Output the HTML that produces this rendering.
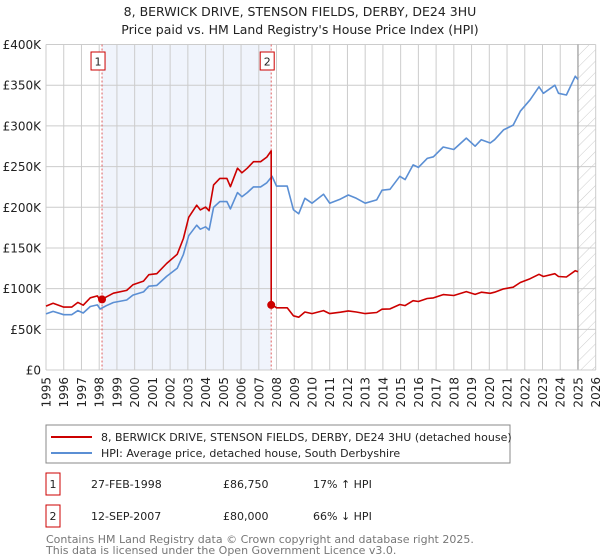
<!DOCTYPE html>
<html><head><meta charset="utf-8"><style>
body{margin:0;background:#fff;font-family:"Liberation Sans","DejaVu Sans",sans-serif;}
#wrap{position:relative;width:600px;height:560px;overflow:hidden;}
svg text{font-family:"DejaVu Sans","Liberation Sans",sans-serif;}
</style></head><body>
<div id="wrap">
<svg id="chart" width="600" height="560"></svg>
</div>
<script>
const hpiYears=[1995.0,1995.4,1996.0,1996.45,1996.8,1997.1,1997.5,1997.9,1998.05,1998.4,1998.8,1999.55,1999.9,2000.5,2000.8,2001.25,2001.8,2002.4,2002.75,2003.05,2003.5,2003.7,2004.0,2004.2,2004.45,2004.8,2005.2,2005.4,2005.8,2006.05,2006.35,2006.7,2007.1,2007.45,2007.75,2008.0,2008.6,2008.95,2009.25,2009.6,2010.0,2010.65,2011.0,2011.6,2012.05,2012.5,2013.0,2013.65,2013.95,2014.4,2014.95,2015.25,2015.7,2016.0,2016.5,2016.85,2017.4,2018.0,2018.7,2019.2,2019.55,2020.05,2020.3,2020.8,2021.35,2021.75,2022.3,2022.8,2023.05,2023.7,2023.9,2024.35,2024.85,2025.0];
const hpiValues=[69,72,68,68,73,70,78,80,75,79,83,86,92,96,103,104,115,125,142,165,178,173,176,172,200,207,207,198,218,213,218,225,225,230,238,226,226,197,192,211,205,216,205,210,215,211,205,209,221,222,238,234,252,249,260,262,274,271,285,275,283,279,283,295,301,318,332,348,340,350,340,338,361,357];
const saleYears=[1998.16,2007.70];
const salePrices=[86.75,80.0];
const saleLabels=["1","2"];
const yTicks=[0,50,100,150,200,250,300,350,400];
const yTickLabels=["£0","£50K","£100K","£150K","£200K","£250K","£300K","£350K","£400K"];
const xTickYears=[1995,1996,1997,1998,1999,2000,2001,2002,2003,2004,2005,2006,2007,2008,2009,2010,2011,2012,2013,2014,2015,2016,2017,2018,2019,2020,2021,2022,2023,2024,2025,2026];
const dataEnd=2025.0;

const NS="http://www.w3.org/2000/svg";
const svg=document.getElementById('chart');
const L=46,R=595.7,T=44.5,B=370;
const X=y=>L+(y-1995)/(2026-1995)*(R-L);
const Y=v=>B-v/400*(B-T);
function mk(tag,attrs,parent){const e=document.createElementNS(NS,tag);for(const k in attrs)e.setAttribute(k,attrs[k]);(parent||svg).appendChild(e);return e;}
function hpiAt(y){for(let i=1;i<hpiYears.length;i++){if(y<=hpiYears[i]){const t=(y-hpiYears[i-1])/(hpiYears[i]-hpiYears[i-1]);return hpiValues[i-1]+t*(hpiValues[i]-hpiValues[i-1]);}}return hpiValues[hpiValues.length-1];}

let t=mk('text',{x:300,y:16,'text-anchor':'middle','font-size':12.5,fill:'#222'});t.textContent="8, BERWICK DRIVE, STENSON FIELDS, DERBY, DE24 3HU";

t=mk('text',{x:300,y:34,'text-anchor':'middle','font-size':12.5,fill:'#222'});t.textContent="Price paid vs. HM Land Registry's House Price Index (HPI)";


let band=mk('rect',{x:X(saleYears[0]),y:T,width:X(saleYears[1])-X(saleYears[0]),height:B-T,fill:'#f0f4fc'});

const defs=mk('defs',{});
const pat=mk('pattern',{id:'hatch',width:8,height:8,patternUnits:'userSpaceOnUse',patternTransform:'rotate(45)'},defs);
mk('line',{x1:0,y1:0,x2:0,y2:8,stroke:'#ccc','stroke-width':1},pat);
let hr=mk('rect',{x:X(dataEnd),y:T,width:R-X(dataEnd),height:B-T,fill:'url(#hatch)'});


const grid=mk('g',{stroke:'#ccc','stroke-width':1});
yTicks.forEach(v=>mk('line',{x1:L,x2:R,y1:Y(v),y2:Y(v)},grid));
xTickYears.forEach(y=>mk('line',{x1:X(y),x2:X(y),y1:T,y2:B},grid));
mk('line',{x1:X(dataEnd),x2:X(dataEnd),y1:T,y2:B,stroke:'#999','stroke-width':1.2});

yTicks.forEach((v,i)=>{const e=mk('text',{x:L-5,y:Y(v)+4.5,'text-anchor':'end','font-size':12,fill:'#222'});e.textContent=yTickLabels[i];
});
xTickYears.forEach(y=>{const px=X(y)+4.5, py=B+7;
 const e=mk('text',{x:px,y:py,'text-anchor':'end','font-size':12,fill:'#222',transform:'rotate(-90 '+px.toFixed(1)+' '+py+')'});e.textContent=String(y);
 });

saleYears.forEach((y,i)=>{
 let l=mk('line',{x1:X(y),x2:X(y),y1:T,y2:B,stroke:'#e06060','stroke-width':1,'stroke-dasharray':'2,2'});
 
 const g=mk('g',{});
 mk('rect',{x:X(y)-11,y:52,width:14,height:18,fill:'#fff',stroke:'#cc0000','stroke-width':1},g);
 const e=mk('text',{x:X(y)-4,y:65.5,'text-anchor':'middle','font-size':11,fill:'#222'},g);e.textContent=saleLabels[i];
});

let d=hpiYears.map((y,i)=>(i?'L':'M')+X(y).toFixed(1)+','+Y(hpiValues[i]).toFixed(1)).join('');
let hl=mk('path',{d:d,fill:'none',stroke:'#5b8fd4','stroke-width':1.6,'stroke-linejoin':'round'});


const r1=salePrices[0]/hpiAt(saleYears[0]), r2=salePrices[1]/hpiAt(saleYears[1]);
let pts=[];
hpiYears.forEach((y,i)=>{if(y<saleYears[1])pts.push([y,hpiValues[i]*r1]);});
pts.push([saleYears[1],hpiAt(saleYears[1])*r1]);
pts.push([saleYears[1],salePrices[1]]);
hpiYears.forEach((y,i)=>{if(y>saleYears[1])pts.push([y,hpiValues[i]*r2]);});
d=pts.map((p,i)=>(i?'L':'M')+X(p[0]).toFixed(1)+','+Y(p[1]).toFixed(1)).join('');
let rl=mk('path',{d:d,fill:'none',stroke:'#cc0000','stroke-width':1.6,'stroke-linejoin':'round'});

saleYears.forEach((y,i)=>{const c=mk('circle',{cx:X(y),cy:Y(salePrices[i]),r:4,fill:'#cc0000'});
});

mk('line',{x1:L,x2:R,y1:B,y2:B,stroke:'#ccc'});

const lg=mk('g',{});
mk('rect',{x:46,y:425,width:464,height:38,fill:'#fff',stroke:'#888','stroke-width':1},lg);
mk('line',{x1:51,x2:92,y1:437,y2:437,stroke:'#cc0000','stroke-width':2},lg);
mk('line',{x1:51,x2:92,y1:453,y2:453,stroke:'#5b8fd4','stroke-width':2},lg);
let e1=mk('text',{x:101,y:441,'font-size':11,fill:'#222'},lg);e1.textContent="8, BERWICK DRIVE, STENSON FIELDS, DERBY, DE24 3HU (detached house)";

let e2=mk('text',{x:101,y:457,'font-size':11,fill:'#222'},lg);e2.textContent="HPI: Average price, detached house, South Derbyshire";


const rows=[["1","27-FEB-1998","£86,750","17% ↑ HPI"],["2","12-SEP-2007","£80,000","66% ↓ HPI"]];
rows.forEach((r,i)=>{const yc=484+i*32;const g=mk('g',{});
 mk('rect',{x:46,y:yc-11,width:14,height:22,fill:'#fff',stroke:'#cc0000'},g);
 const a=mk('text',{x:53,y:yc+4,'text-anchor':'middle','font-size':11,fill:'#222'},g);a.textContent=r[0];
 const b=mk('text',{x:91,y:yc+4,'font-size':11,fill:'#222'},g);b.textContent=r[1];
 const c=mk('text',{x:223,y:yc+4,'font-size':11,fill:'#222'},g);c.textContent=r[2];
 const dd=mk('text',{x:313,y:yc+4,'font-size':11,fill:'#222'},g);dd.textContent=r[3];
});
let f1=mk('text',{x:46,y:543,'font-size':11,fill:'#777'});f1.textContent="Contains HM Land Registry data © Crown copyright and database right 2025.";

let f2=mk('text',{x:46,y:554,'font-size':11,fill:'#777'});f2.textContent="This data is licensed under the Open Government Licence v3.0.";

</script>
</body></html>
